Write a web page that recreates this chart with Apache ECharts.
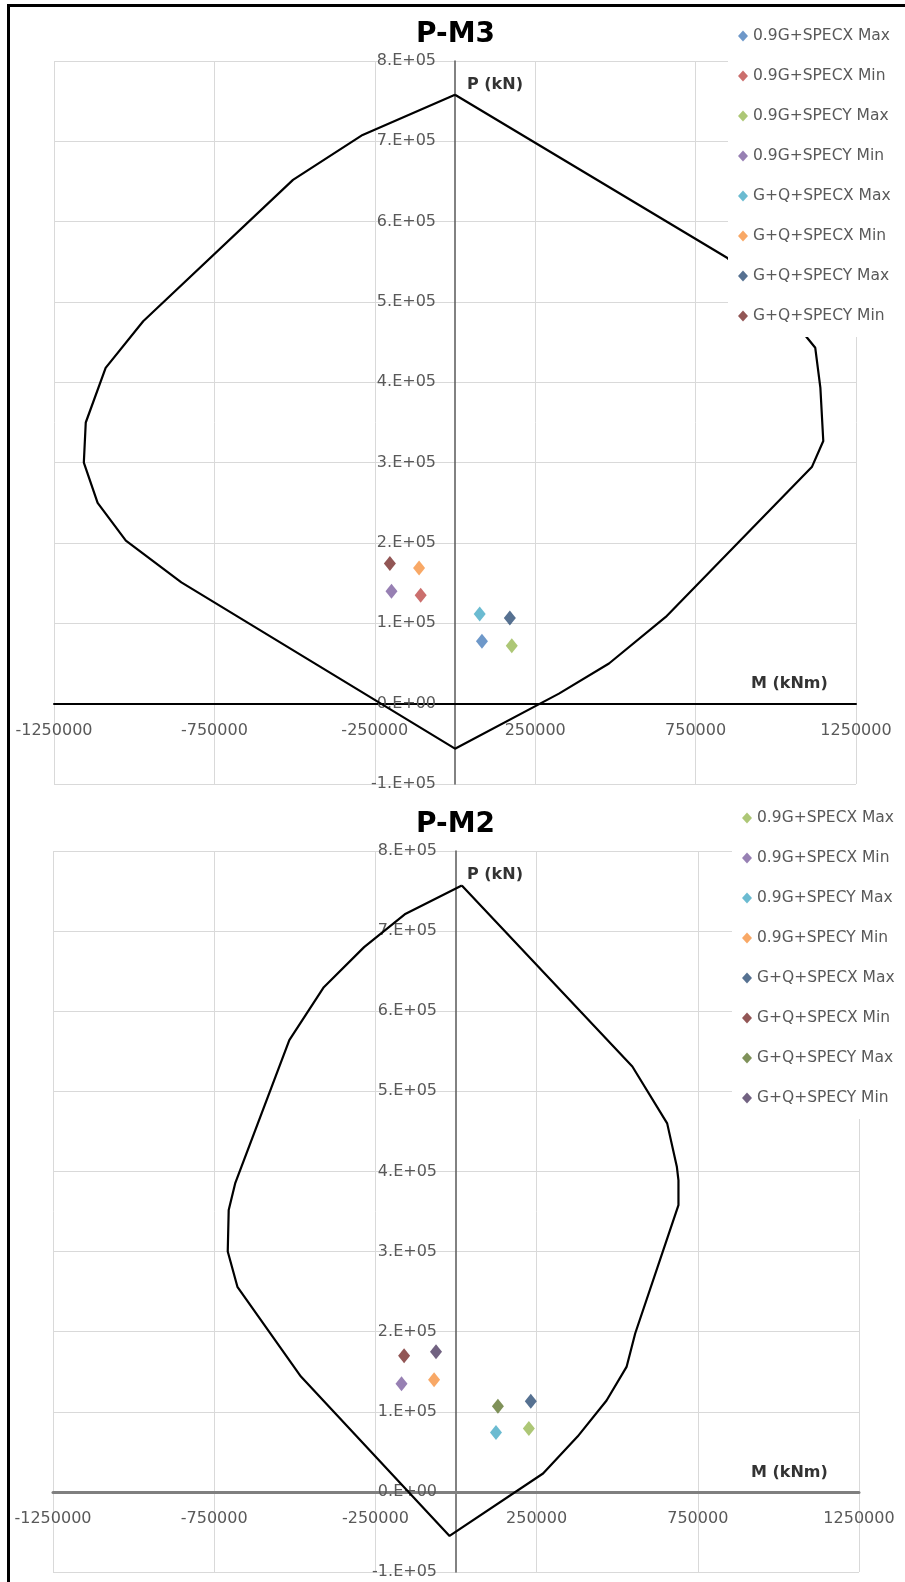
<!DOCTYPE html>
<html>
<head>
<meta charset="utf-8">
<script src="https://cdn.jsdelivr.net/npm/echarts@6/dist/echarts.min.js"></script>
<style>
html, body { margin: 0; padding: 0; background: #fff; }
#chart { width: 905px; height: 1582px; }
#frame { position: absolute; left: 7px; top: 4px; right: 0; bottom: 0;
         border-left: 3px solid #000; border-top: 3px solid #000; pointer-events: none; }
</style>
</head>
<body>
<div id="chart"></div>
<div id="frame"></div>
<script>
// load combinations (same names on both plots)
var loadCases = ['0.9G+SPECX Max', '0.9G+SPECX Min', '0.9G+SPECY Max', '0.9G+SPECY Min',
                 'G+Q+SPECX Max', 'G+Q+SPECX Min', 'G+Q+SPECY Max', 'G+Q+SPECY Min'];

// P-M3 : demand points
var m3CaseM = [84000, -107000, 177000, -198000, 77000, -112000, 171000, -203000];
var m3CaseP = [77700, 135000, 72000, 140000, 111700, 169000, 106700, 174600];
// P-M3 : capacity curve
var m3CurveM = [0, 848000, 1066000, 1123000, 1139000, 1148000, 1113000, 657000, 480000, 324000, 0,
                -853000, -1026000, -1114000, -1157000, -1151000, -1089000, -972000, -505000, -288000, 0];
var m3CurveP = [758000, 555000, 471000, 443000, 393000, 327000, 295000, 108000, 50000, 12500, -56000,
                151000, 203000, 250000, 300000, 350000, 418000, 476000, 652000, 708000, 758000];

// P-M2 : demand points
var m2CaseM = [226000, -169000, 124000, -68000, 232000, -161000, 130000, -62000];
var m2CaseP = [79000, 135000, 74000, 140000, 113000, 170000, 107000, 175000];
// P-M2 : capacity curve
var m2CurveM = [18000, 547000, 655000, 685000, 690000, 690000, 556000, 529000, 467000, 377000, 270000, -20000,
                -481000, -678000, -708000, -705000, -685000, -517000, -410000, -285000, -159000, 18000];
var m2CurveP = [757000, 531000, 460000, 406000, 389000, 358000, 198000, 156000, 114000, 69000, 23000, -55000,
                144000, 256000, 300000, 352000, 385000, 564000, 630000, 680000, 721000, 757000];

// tick labels
var yTickValues = [-100000, 0, 100000, 200000, 300000, 400000, 500000, 600000, 700000, 800000];
var yTickLabels = ['-1.E+05', '0.E+00', '1.E+05', '2.E+05', '3.E+05', '4.E+05', '5.E+05', '6.E+05', '7.E+05', '8.E+05'];

var m3Colors = ['#4A7EBB', '#BE4B48', '#98B954', '#7D60A0', '#46AAC5', '#F69240', '#2C4D75', '#772C2A'];
var m2Colors = ['#98B954', '#7D60A0', '#46AAC5', '#F69240', '#2C4D75', '#772C2A', '#5F7530', '#4D3B62'];

var labelFont = 'DejaVu Sans';
var chart = echarts.init(document.getElementById('chart'));

// plot boxes (px), axes are pushed to the zero lines with offset
var boxes = [
    { left: 54, top: 61, width: 802, height: 723 },
    { left: 53, top: 851, width: 806, height: 721 }
];

function pairs(xs, ys) {
    return xs.map(function (x, i) { return [x, ys[i]]; });
}

function xAxisFor(idx, lineColor, lineWidth) {
    return {
        type: 'value', gridIndex: idx, position: 'bottom',
        min: -1250000, max: 1250000, interval: 500000,
        offset: -boxes[idx].height / 9,
        axisLine: { onZero: false, lineStyle: { color: lineColor, width: lineWidth } },
        axisTick: { show: false },
        axisLabel: { margin: 19, color: '#595959', fontFamily: labelFont, fontSize: 16,
                     formatter: function (v) { return String(v); } },
        splitLine: { show: true, lineStyle: { color: '#d9d9d9', width: 1 } }
    };
}

function yAxisFor(idx) {
    return {
        type: 'value', gridIndex: idx, position: 'left',
        min: -100000, max: 800000, interval: 100000,
        offset: -boxes[idx].width / 2,
        axisLine: { onZero: false, lineStyle: { color: '#595959', width: 1.5 } },
        axisTick: { show: false },
        axisLabel: { margin: 19, color: '#595959', fontFamily: labelFont, fontSize: 16,
                     formatter: function (v) {
                         var i = yTickValues.indexOf(v);
                         return i >= 0 ? yTickLabels[i] : '';
                     } },
        splitLine: { show: true, lineStyle: { color: '#d9d9d9', width: 1 } }
    };
}

function seriesFor(tag, idx, caseM, caseP, curveM, curveP, colors) {
    var out = [{
        name: tag + ' curve', type: 'line', xAxisIndex: idx, yAxisIndex: idx,
        data: pairs(curveM, curveP), showSymbol: false, symbol: 'none',
        lineStyle: { color: '#000', width: 2.2 }, itemStyle: { color: '#000' }
    }];
    loadCases.forEach(function (name, i) {
        out.push({
            name: tag + '|' + name, type: 'scatter', xAxisIndex: idx, yAxisIndex: idx,
            symbol: 'diamond', symbolSize: [12, 15],
            itemStyle: { color: colors[i] },
            data: [[caseM[i], caseP[i]]]
        });
    });
    return out;
}

function legendFor(tag, left, top) {
    return {
        orient: 'vertical', left: left, top: top,
        padding: [14, 10, 13, 10], backgroundColor: '#fff',
        icon: 'diamond', itemWidth: 10, itemHeight: 11, itemGap: 24,
        textStyle: { color: '#595959', fontFamily: labelFont, fontSize: 15.5 },
        data: loadCases.map(function (n) { return tag + '|' + n; }),
        formatter: function (n) { return n.split('|')[1]; },
        selectedMode: false
    };
}

var nameStyle = { color: '#333', fontFamily: labelFont, fontSize: 16, fontWeight: 'bold' };
var titleStyle = { color: '#000', fontFamily: labelFont, fontSize: 28, fontWeight: 'bold' };

chart.setOption({
    animation: false,
    backgroundColor: '#fff',
    title: [
        { text: 'P-M3', left: 416, top: 21, padding: 0, textStyle: titleStyle },
        { text: 'P (kN)', left: 467, top: 77, padding: 0, textStyle: nameStyle },
        { text: 'M (kNm)', left: 751, top: 676, padding: 0, textStyle: nameStyle },
        { text: 'P-M2', left: 416, top: 811, padding: 0, textStyle: titleStyle },
        { text: 'P (kN)', left: 467, top: 867, padding: 0, textStyle: nameStyle },
        { text: 'M (kNm)', left: 751, top: 1465, padding: 0, textStyle: nameStyle }
    ],
    legend: [legendFor('P-M3', 728, 14), legendFor('P-M2', 732, 796)],
    grid: boxes.map(function (b) {
        return { left: b.left, top: b.top, width: b.width, height: b.height, outerBoundsMode: 'none' };
    }),
    xAxis: [xAxisFor(0, '#000', 2), xAxisFor(1, '#7f7f7f', 3)],
    yAxis: [yAxisFor(0), yAxisFor(1)],
    series: seriesFor('P-M3', 0, m3CaseM, m3CaseP, m3CurveM, m3CurveP, m3Colors)
        .concat(seriesFor('P-M2', 1, m2CaseM, m2CaseP, m2CurveM, m2CurveP, m2Colors))
});
</script>
</body>
</html>
